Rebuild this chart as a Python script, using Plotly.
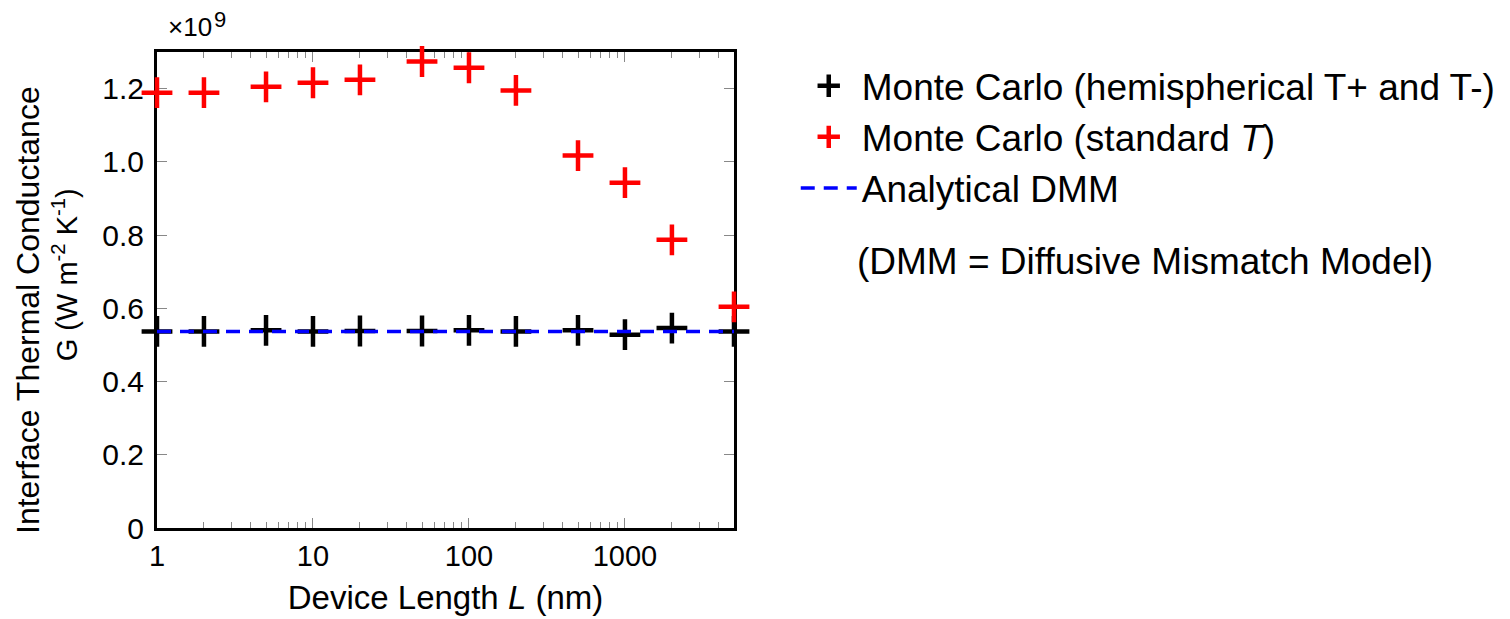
import plotly.graph_objects as go

# Data (G in units of 1e9 W m^-2 K^-1)
device_length_nm = [1, 2, 5, 10, 20, 50, 100, 200, 500, 1000, 2000, 5000]
g_hemispherical = [0.537, 0.537, 0.540, 0.537, 0.538, 0.538, 0.540, 0.537, 0.540, 0.528, 0.546, 0.537]
g_standard = [1.189, 1.189, 1.205, 1.216, 1.224, 1.274, 1.257, 1.195, 1.017, 0.943, 0.787, 0.604]
dmm_x = [1, 5000]
dmm_value = [0.537, 0.537]

y_tickvals = [0, 0.2, 0.4, 0.6, 0.8, 1.0, 1.2]
y_ticktext = ["0", "0.2", "0.4", "0.6", "0.8", "1.0", "1.2"]
x_tickvals = [1, 10, 100, 1000]
x_ticktext = ["1", "10", "100", "1000"]
x_minor = [m * 10 ** k for k in range(4) for m in range(2, 10) if m * 10 ** k < 5000]

FONT = "Liberation Sans, Arial, sans-serif"

fig = go.Figure()
fig.add_trace(go.Scatter(
    x=device_length_nm, y=g_hemispherical, mode="markers",
    name="Monte Carlo (hemispherical T+ and T-)",
    marker=dict(symbol="cross-thin", size=22, color="black",
                line=dict(color="black", width=4.5)),
    cliponaxis=False,
))
fig.add_trace(go.Scatter(
    x=device_length_nm, y=g_standard, mode="markers",
    name="Monte Carlo (standard <i>T</i>)",
    marker=dict(symbol="cross-thin", size=22, color="#ff0000",
                line=dict(color="#ff0000", width=4.5)),
    cliponaxis=False,
))
fig.add_trace(go.Scatter(
    x=dmm_x, y=dmm_value, mode="lines", name="Analytical DMM",
    line=dict(color="#0000ff", width=3.5, dash="14px,9px"),
))

# the page body has an 8px margin, so margins are reduced by 8px on left/top
fig.update_layout(
    width=1510, height=619,
    margin=dict(l=149, r=784, t=44, b=99),
    plot_bgcolor="white", paper_bgcolor="white",
    font=dict(family=FONT, color="black", size=29),
    legend=dict(
        x=1.107, y=0.821, xanchor="left", yanchor="middle",
        font=dict(size=37, family=FONT), itemwidth=56,
        bgcolor="rgba(0,0,0,0)",
    ),
    annotations=[
        dict(text="×10", xref="paper", yref="paper",
             x=0.0156, y=1.0525, xanchor="left", yanchor="middle",
             showarrow=False, font=dict(size=26, family=FONT)),
        dict(text="9", xref="paper", yref="paper",
             x=0.096, y=1.068, xanchor="left", yanchor="middle",
             showarrow=False, font=dict(size=22, family=FONT)),
        dict(text="(DMM = Diffusive Mismatch Model)", xref="paper", yref="paper",
             x=1.712, y=0.559, xanchor="center", yanchor="middle",
             showarrow=False, font=dict(size=37, family=FONT)),
        dict(text="Interface Thermal Conductance", xref="paper", yref="paper",
             x=-0.2236, y=0.458, xanchor="center", yanchor="middle", textangle=-90,
             showarrow=False, font=dict(size=32, family=FONT)),
        dict(text="G (W m<sup>-2</sup> K<sup>-1</sup>)", xref="paper", yref="paper",
             x=-0.159, y=0.5315, xanchor="center", yanchor="middle", textangle=-90,
             showarrow=False, font=dict(size=29, family=FONT)),
    ],
)

fig.update_xaxes(
    type="log", range=[0, 3.699], automargin=False,
    tickmode="array", tickvals=x_tickvals, ticktext=x_ticktext,
    ticks="inside", ticklen=10, tickwidth=1, tickcolor="#888888",
    showline=True, linecolor="black", linewidth=3, mirror="allticks",
    showgrid=False, zeroline=False, layer="below traces",
    tickfont=dict(size=29, family=FONT),
    minor=dict(tickmode="array", tickvals=x_minor, ticks="inside",
               ticklen=6, tickwidth=1, tickcolor="#888888", showgrid=False),
    title=dict(text="Device Length <i>L</i> (nm)", font=dict(size=33, family=FONT),
               standoff=16),
)
fig.update_yaxes(
    range=[0, 1.3], automargin=False,
    tickmode="array", tickvals=y_tickvals, ticktext=y_ticktext,
    ticks="inside", ticklen=10, tickwidth=1, tickcolor="#888888",
    showline=True, linecolor="black", linewidth=3, mirror="allticks",
    showgrid=False, zeroline=False, layer="below traces",
    tickfont=dict(size=30, family=FONT), ticklabelstandoff=4,
)

fig.write_html("out.html")
